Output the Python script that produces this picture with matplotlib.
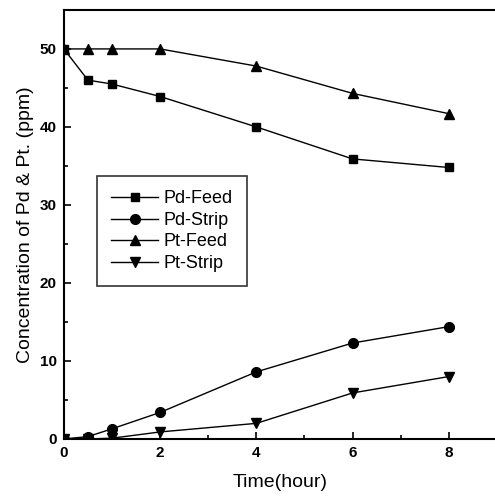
import numpy as np
import matplotlib.pyplot as plt
from matplotlib.ticker import MultipleLocator

plt.rcParams['font.family'] = ['Liberation Sans', 'DejaVu Sans']

# данные
time = [0, 0.5, 1, 2, 4, 6, 8]
pd_feed = [50, 46.0, 45.5, 43.9, 40.0, 35.9, 34.8]
pd_strip = [0, 0.3, 1.3, 3.4, 8.6, 12.3, 14.4]
pt_feed = [50, 50, 50, 50, 47.8, 44.3, 41.7]
pt_strip = [0, 0, 0.1, 0.9, 2.0, 5.9, 8.0]

fig = plt.figure(figsize=(4.95, 4.96), dpi=100)
ax = fig.add_axes([0.129, 0.115, 0.875, 0.865])

ax.plot(time, pd_feed, color='black', lw=1, marker='s', ms=6, label="Pd-Feed")
ax.plot(time, pd_strip, color='black', lw=1, marker='o', ms=7, label="Pd-Strip")
ax.plot(time, pt_feed, color='black', lw=1, marker='^', ms=7, label="Pt-Feed")
ax.plot(time, pt_strip, color='black', lw=1, marker='v', ms=7, label="Pt-Strip")

ax.set_xlim(0, 9)
ax.set_ylim(0, 55)
ax.xaxis.set_major_locator(MultipleLocator(2))
ax.xaxis.set_minor_locator(MultipleLocator(1))
ax.yaxis.set_major_locator(MultipleLocator(10))
ax.yaxis.set_minor_locator(MultipleLocator(5))
ax.tick_params(which='both', direction='in', width=1.2)
ax.tick_params(which='major', length=5, labelsize=11, pad=5)
ax.tick_params(which='minor', length=3)
for lab in ax.get_xticklabels() + ax.get_yticklabels():
    lab.set_fontweight('bold')
for s in ax.spines.values():
    s.set_linewidth(1.5)

ax.set_xlabel("Time(hour)", fontsize=14, labelpad=10)
ax.set_ylabel("Concentration of Pd & Pt. (ppm)", fontsize=14, labelpad=4)

leg = ax.legend(loc='upper left', bbox_to_anchor=(0.076, 0.613), fontsize=13,
                frameon=True, fancybox=False, edgecolor='black', handlelength=2.6,
                borderpad=0.8, labelspacing=0.25, handletextpad=0.3,
                borderaxespad=0)
leg.get_frame().set_linewidth(1.2)

plt.savefig("out.png", dpi=100)
